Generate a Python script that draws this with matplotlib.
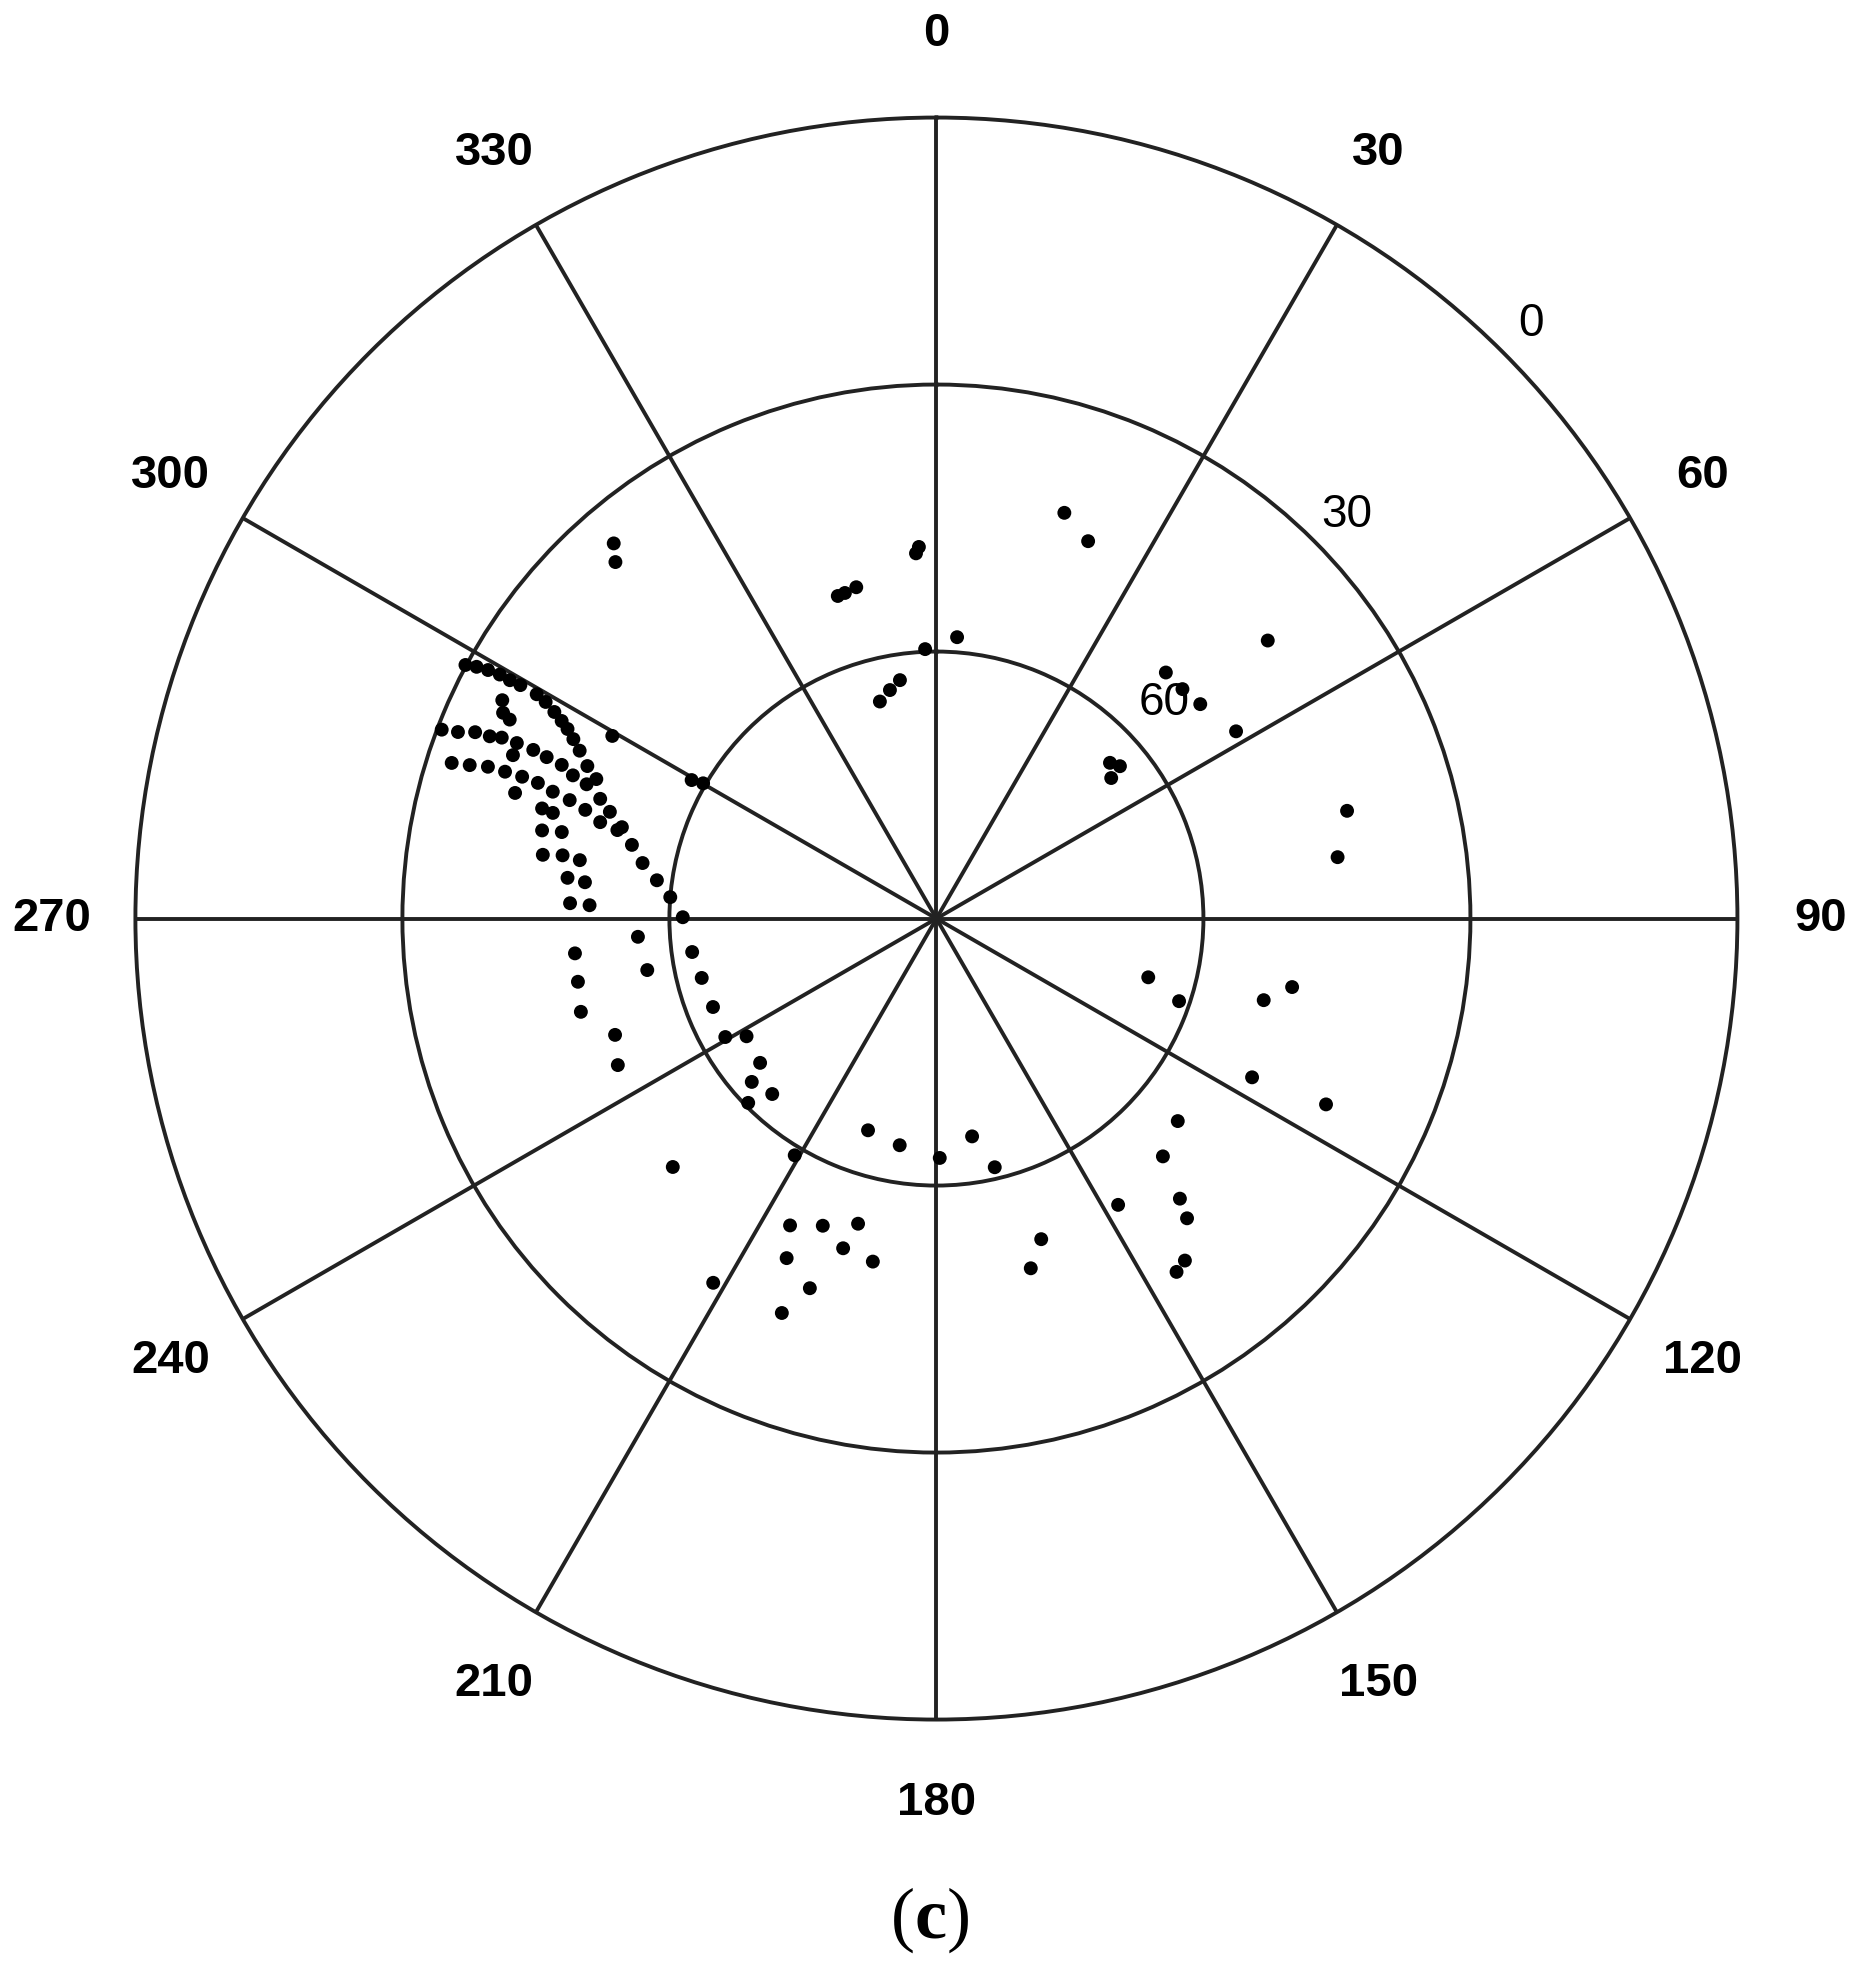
import numpy as np
import matplotlib
matplotlib.use("Agg")
import matplotlib.pyplot as plt

plt.rcParams['font.family'] = ['Liberation Sans', 'DejaVu Sans']
plt.rcParams['mathtext.fontset'] = 'custom'
plt.rcParams['mathtext.rm'] = 'Liberation Serif'
plt.rcParams['mathtext.bf'] = 'Liberation Serif:bold'

# ---------------- data (azimuth deg, elevation deg) ----------------
cluster_az = [298.3, 298.7, 299.0, 299.2, 299.2, 299.3, 296.7, 295.4, 295.0,
              299.3, 299.0, 298.4, 297.8, 297.2, 296.3, 295.2, 293.6, 292.3,
              290.9, 291.3, 292.0, 292.2, 292.6, 292.7, 292.7, 292.5, 292.3,
              291.5, 291.0, 289.6, 288.1, 286.2, 283.6, 280.7, 277.8, 274.6,
              270.3, 287.8, 288.2, 288.7, 288.8, 288.9, 288.8, 288.3, 287.9,
              287.2, 286.0, 285.5, 286.6, 291.1, 285.6, 285.4, 282.6, 283.0,
              279.2, 279.6, 279.3, 276.3, 275.9, 272.4, 272.2, 299.4, 299.5,
              300.1]
cluster_el = [29.9, 31.1, 32.4, 33.8, 35.1, 36.4, 35.4, 36.1, 37.1,
              38.5, 39.8, 41.2, 42.4, 43.4, 44.5, 45.7, 47.2, 48.7,
              30.5, 32.3, 34.1, 35.8, 37.1, 38.9, 40.9, 42.6, 44.5,
              46.1, 47.9, 49.9, 51.4, 53.2, 54.8, 56.4, 58.3, 60.0,
              61.5, 32.8, 34.8, 36.8, 38.8, 40.8, 42.7, 44.6, 46.7,
              48.7, 50.7, 52.8, 40.6, 39.0, 44.0, 45.3, 44.6, 46.8,
              45.2, 47.4, 49.4, 48.3, 50.3, 48.8, 51.0, 48.2, 58.4,
              59.7]

north_az = [319.3, 318.0, 357.3, 356.8, 343.0, 344.3, 346.4, 4.2, 357.6,
            345.4, 348.5, 351.3, 17.5, 21.9]
north_el = [34.4, 36.1, 48.2, 48.9, 52.1, 52.0, 51.7, 58.3, 59.7,
            64.8, 63.8, 62.9, 42.2, 44.3]

east_az = [50.0, 43.0, 47.0, 50.9, 58.0, 48.1, 50.3, 51.2, 75.3, 81.3,
           105.5, 108.8, 104.0, 100.9, 116.7, 115.5, 130.0, 136.4, 147.6,
           139.0, 140.1, 144.0, 145.8, 161.9, 164.9]
east_el = [41.4, 52.2, 52.2, 51.8, 50.3, 63.8, 63.2, 64.8, 42.3, 44.4,
           65.3, 61.2, 52.1, 49.3, 50.3, 41.5, 54.6, 53.1, 51.9,
           48.3, 46.1, 42.5, 42.0, 52.1, 49.3]

south_az = [197.9, 189.2, 179.2, 170.7, 166.8, 210.9, 226.7, 205.5, 200.3,
            194.4, 203.8, 195.8, 190.5, 198.9, 211.5, 201.4]
south_el = [65.0, 64.2, 63.1, 65.2, 61.3, 59.0, 49.3, 51.8, 53.2,
            54.6, 48.3, 51.5, 50.8, 46.1, 42.0, 42.4]

west_az = [266.5, 259.9, 264.5, 260.0, 255.3, 250.1, 245.3, 262.2, 255.8,
           248.4, 240.7, 238.2, 230.7, 228.5, 223.1, 225.6]
west_el = [56.4, 57.0, 49.2, 49.1, 48.7, 51.6, 50.6, 62.3, 62.8,
           63.0, 62.8, 64.9, 64.4, 62.3, 63.0, 60.4]

azimuth_ticks = list(range(0, 360, 30))
azimuth_labels = [str(a) for a in azimuth_ticks]
elevation_rings = [30, 60]
elevation_label_values = [0, 30, 60]
elevation_labels = ['0', '30', '60']
panel_label = 'c'

# ---------------- figure ----------------
line_color = '#222222'
fig = plt.figure(figsize=(18.6, 19.72), dpi=100)
ax = fig.add_axes([0.0728, 0.1280, 0.8613, 0.8124], projection='polar')
ax.set_theta_zero_location('N')
ax.set_theta_direction(-1)
ax.set_rlim(90, 0)

ax.set_thetagrids(azimuth_ticks, azimuth_labels, fontsize=34, fontweight='bold')
ax.tick_params(axis='x', pad=53, length=0)
ax.set_rgrids(elevation_rings, labels=['' for _ in elevation_rings])
ax.tick_params(axis='y', length=0)
ax.grid(True, color=line_color, linewidth=2.8)
ax.spines['polar'].set_color(line_color)
ax.spines['polar'].set_linewidth(2.8)

label_az = [45.0, 45.5, 46.5]
label_offset = [4.5, 4.7, 5.2]
for val, lab, a, off in zip(elevation_label_values, elevation_labels,
                            label_az, label_offset):
    ax.text(np.deg2rad(a), val - off, lab, fontsize=33, ha='center',
            va='center', color='black', zorder=2)

all_az = cluster_az + north_az + east_az + south_az + west_az
all_el = cluster_el + north_el + east_el + south_el + west_el
ax.scatter(np.deg2rad(all_az), all_el, s=100, c='black', edgecolors='none',
           zorder=3, clip_on=False)

fig.text(0.5, 0.0262, '(' + r'$\mathbf{' + panel_label + '}$' + ')',
         fontsize=52, family='Liberation Serif', ha='center', va='center')

fig.savefig('out.png', dpi=100, facecolor='white')
